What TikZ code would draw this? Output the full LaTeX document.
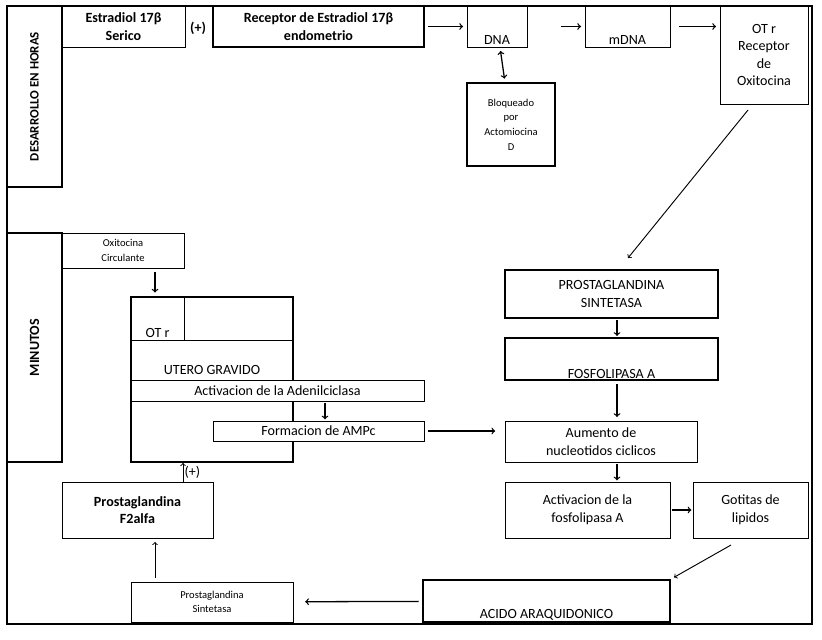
\documentclass[tikz,border=0pt]{standalone}
\usepackage{fontspec}
\setmainfont{Carlito}
\usetikzlibrary{arrows}

\tikzset{box/.style={draw,line width=0.8pt,inner sep=1pt,align=center},
  thick box/.style={box,line width=1.6pt},
  sz/.style 2 args={minimum width=#1*0.03cm,minimum height=#2*0.03cm},
  small/.style={font=\fontsize{9}{12.5}\selectfont},
  bot/.style={label={[anchor=south,inner sep=2pt]south:#1}},
  arr/.style={->,line width=1.1pt,shorten >=3pt,shorten <=3pt}}

\begin{document}
\begin{tikzpicture}[x=0.03cm,y=-0.03cm,>=to,font=\fontsize{12}{15}\selectfont]
\useasboundingbox (0,0) rectangle (822,639);
\draw[line width=1pt] (7,6) rectangle (812,624);

% desarrollo en horas
\node (horas) [thick box,sz={55}{181}] at (34.5,96.5) {};
\node [rotate=90,font=\bfseries\fontsize{11}{12}\selectfont] at (horas) {DESARROLLO EN HORAS};
\node (est) [box,sz={123}{41},font=\bfseries\fontsize{12}{15}\selectfont] at (123.5,26.5) {Estradiol 17β\\Serico};
\node (plus1) [font=\bfseries\fontsize{12}{15}\selectfont] at (198,28) {(+)};
\node (rec) [thick box,sz={211}{41},font=\bfseries\fontsize{12}{15}\selectfont] at (318.5,26.5) {Receptor de Estradiol 17β\\endometrio};
\node (dna) [box,sz={60}{41},bot=DNA] at (497,26.5) {};
\node (mdna) [box,sz={85}{41},bot=mDNA] at (627.5,26.5) {};
\node (otr) [box,sz={88}{98}] at (764,55) {OT r\\Receptor\\de\\Oxitocina};
\node (bloq) [thick box,sz={88}{83},small] at (511,124.5) {Bloqueado\\por\\Actomiocina\\D};
\coordinate (otrend) at (748,110);
\coordinate (pstip) at (628,258);

\draw[arr] (rec) -- (dna);
\draw[arr] (dna.east) ++(30,0) -- (mdna);
\draw[arr] (mdna.east) ++(5,0) -- (otr.west |- mdna);
\draw[arr,<->] (dna) -- (bloq);
\draw[->,line width=0.8pt] (otrend) -- (pstip);

% minutos
\node (min) [thick box,sz={55}{229}] at (34.5,347.5) {};
\node [rotate=90,font=\bfseries\fontsize{12}{15}\selectfont] at (min) {MINUTOS};
\node (oxi) [box,sz={122}{35},small] at (123,250.5) {Oxitocina\\Circulante};
\node (utero) [thick box,sz={162}{165}] at (212,379.5) {};
\node (otr2) [box,sz={53}{43},bot=OT r] at (157.5,318.5) {};
\draw[line width=0.8pt] (184,340) -- (293,340);
\node (ug) at (212,370) {UTERO GRAVIDO};
\node (adc) [box,fill=white,sz={293}{21}] at (277.5,390.5) {Activacion de la Adenilciclasa};
\node (amp) [box,fill=white,sz={211}{20}] at (318.5,431) {Formacion de AMPc};
\draw[arr] (oxi.south -| 155,0) -- (utero.north -| 155,0);
\draw[arr,shorten <=1pt,shorten >=1pt] (adc.south -| 325,0) -- (amp.north -| 325,0);

% lado derecho
\node (ps) [thick box,sz={213}{48}] at (611.5,294) {PROSTAGLANDINA\\SINTETASA};
\node (fos) [thick box,sz={213}{42},bot=FOSFOLIPASA A] at (611.5,359) {};
\node (aum) [box,sz={192}{41}] at (601,441.5) {Aumento de\\nucleotidos ciclicos};
\node (act) [box,sz={165}{56}] at (587.5,510) {Activacion de la\\fosfolipasa A};
\node (got) [box,sz={115}{56}] at (750.5,510) {Gotitas de\\lipidos};
\node (aci) [thick box,sz={247}{42},bot=ACIDO ARAQUIDONICO] at (546.5,601) {};
\node (pss) [box,sz={162}{40},small] at (212,602) {Prostaglandina\\Sintetasa};
\node (pf2) [box,sz={151}{56},font=\bfseries\fontsize{12}{15}\selectfont] at (137.5,510) {Prostaglandina\\F2alfa};

\draw[arr,shorten <=1pt,shorten >=1pt] (ps.south -| 617,0) -- (fos.north -| 617,0);
\draw[arr] (fos.south -| 617,0) -- (aum.north -| 617,0);
\draw[arr,shorten >=8pt] (amp) -- (aum.west |- amp);
\draw[arr,shorten <=1pt,shorten >=1pt] (aum.south -| 617,0) -- (act.north -| 617,0);
\draw[arr,shorten <=1pt,shorten >=1pt] (act) -- (got);
\draw[->,line width=0.8pt,shorten >=3pt] (731,545) -- (aci.north east);
\draw[arr,shorten >=10pt] (aci) -- (pss);
\draw[arr,line width=0.8pt] (pss.north -| 155,0) -- (pf2.south -| 155,0);
\draw[arr,line width=0.8pt,shorten <=0pt,shorten >=0pt] (pf2.north -| 183,0) -- node[right,inner sep=1pt] {(+)} (utero.south -| 183,0);
\end{tikzpicture}
\end{document}
